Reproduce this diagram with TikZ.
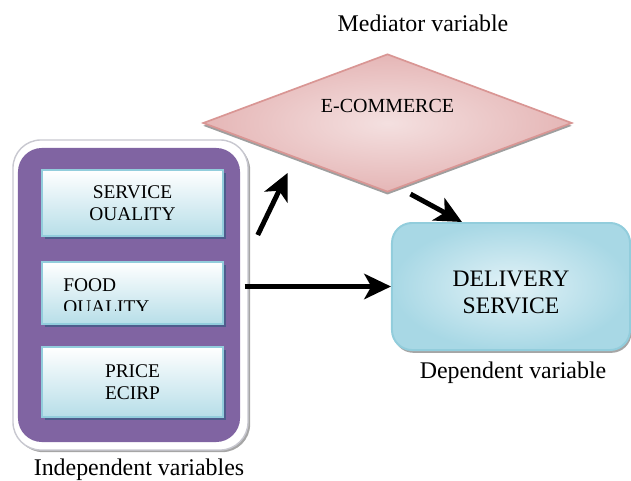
\documentclass[tikz,border=0pt]{standalone}
\usepackage{fontspec}
\setmainfont{Liberation Serif}
\usetikzlibrary{arrows.meta,shapes.geometric,shadows,positioning}

\definecolor{purplefill}{RGB}{128,100,162}
\definecolor{framegray}{RGB}{200,200,208}
\definecolor{boxline}{RGB}{146,205,220}
\definecolor{boxblue}{RGB}{183,222,232}
\definecolor{boxshade}{RGB}{78,92,140}
\definecolor{pinkline}{RGB}{217,150,148}
\definecolor{pinklight}{RGB}{244,224,224}
\definecolor{pinkdark}{RGB}{229,182,182}
\definecolor{delivlight}{RGB}{226,242,247}
\definecolor{delivdark}{RGB}{168,216,229}

\begin{document}
\begin{tikzpicture}[x=0.025cm,y=-0.025cm,>={Stealth[length=19pt,width=18pt,inset=5pt]}]
        \tikzstyle{link}=[->, line width=3.5pt, black]
        \tikzstyle{caption}=[anchor=base, inner sep=0, font=\fontsize{17}{20}\selectfont]
        \tikzstyle{boxtext}=[inner sep=0, font=\fontsize{13.8}{16}\selectfont]
        \tikzstyle{varbox}=[draw=boxline, line width=1.4pt, top color=white, bottom color=boxblue, minimum width=4.525cm,
                drop shadow={shadow xshift=2pt, shadow yshift=-2pt, fill=boxshade, opacity=1}, boxtext, align=center]
        \useasboundingbox (0,0) rectangle (631,480);

        % left group
        \node[draw=framegray, line width=1pt, fill=white, rounded corners=0.7cm, minimum width=5.875cm, minimum height=7.75cm,
              drop shadow={shadow xshift=1.5pt, shadow yshift=-1.5pt, fill=gray!70, opacity=1}] (frame) at (130.5,295) {};
        \node[fill=purplefill, rounded corners=0.6cm, minimum width=5.55cm, minimum height=7.35cm] (indep) at (129,295) {};
        \node[varbox, minimum height=1.65cm] (service) at (132.5,203) {SERVICE\\OUALITY};
        \node[varbox, minimum height=1.55cm] (food) at (132.5,293) {};
        \begin{scope}
          \clip (42,262) rectangle (223,310.5);
          \node[boxtext, anchor=north west, align=left] (foodtxt) at (63,278) {FOOD\\OUALITY};
        \end{scope}
        \node[varbox, minimum height=1.75cm] (price) at (132.5,382) {PRICE\\ECIRP};

        % mediator and dependent
        \node[diamond, draw=pinkline, line width=1.2pt, inner color=pinklight, outer color=pinkdark, inner sep=0,
              minimum width=9.225cm, minimum height=3.45cm,
              drop shadow={shadow xshift=0pt, shadow yshift=-2pt, fill=gray!75, opacity=1},
              label={[yshift=0.43cm, font=\fontsize{14.2}{17}\selectfont]center:E-COMMERCE}] (ecom) at (387.5,123) {};
        \node[draw=boxline, line width=1.4pt, rounded corners=0.5cm, inner color=delivlight, outer color=delivdark,
              minimum width=5.95cm, minimum height=3.175cm,
              drop shadow={shadow xshift=1pt, shadow yshift=-2pt, fill=gray!70, opacity=1},
              label={[yshift=-0.15cm, align=center, font=\fontsize{16.8}{19}\selectfont]center:DELIVERY\\SERVICE}] (deliv) at (511,286.5) {};

        \node[caption] (medcap) at (423,31) {Mediator variable};
        \node[caption] (depcap) at (513,378) {Dependent variable};
        \node[caption] (indcap) at (139,475) {Independent variables};

        \draw[link] ([shift={(0.225cm,1.5cm)}]frame.east) -- ([shift={(-0.18cm,-0.375cm)}]ecom.south west);
        \draw[link] ([xshift=-0.1cm]frame.east |- deliv.west) -- (deliv.west);
        \draw[link] ([shift={(0.575cm,-0.03cm)}]ecom.south) -- ([xshift=-1.225cm]deliv.north);
\end{tikzpicture}
\end{document}
